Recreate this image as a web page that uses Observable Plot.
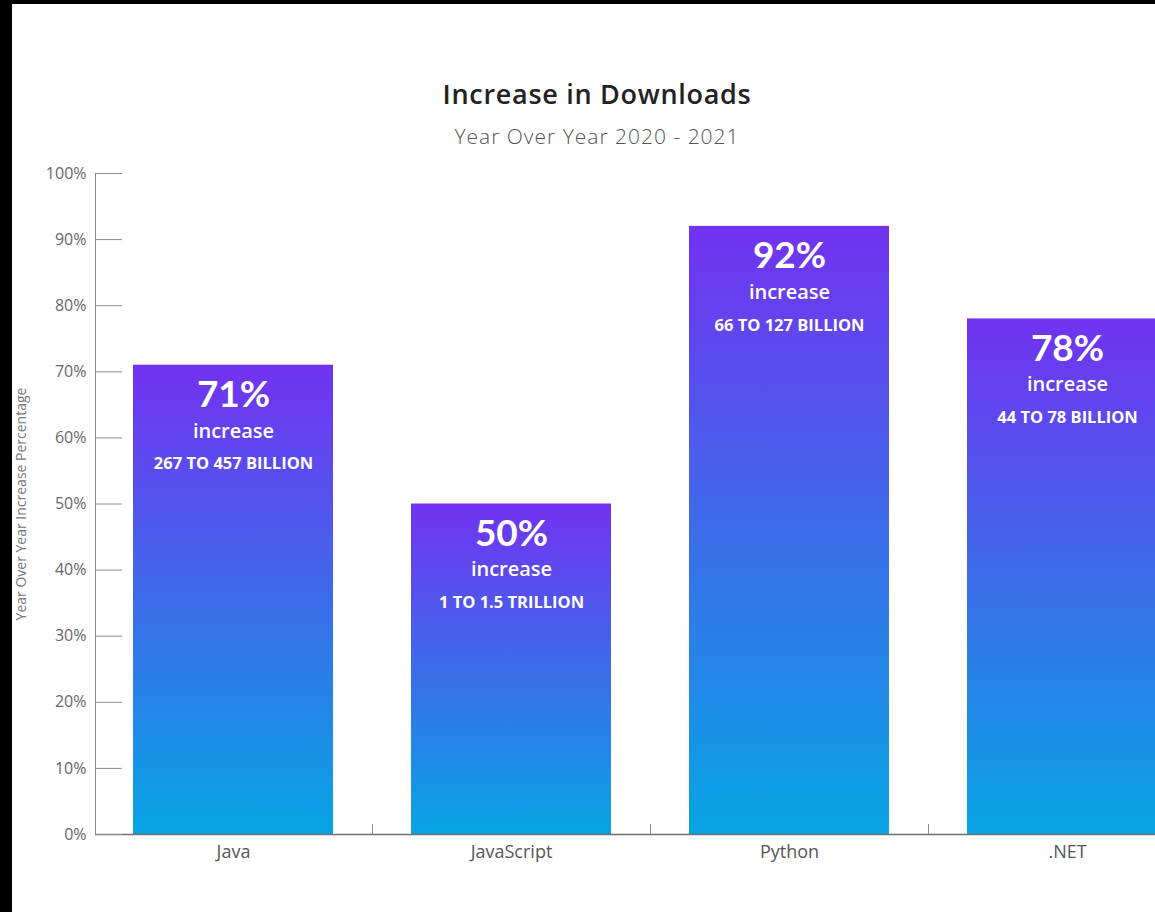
<!DOCTYPE html>
<html>
<head>
<meta charset="utf-8">
<script src="https://cdn.jsdelivr.net/npm/d3@7"></script>
<script src="https://cdn.jsdelivr.net/npm/@observablehq/plot@0.6"></script>
<style>
  html, body { margin: 0; padding: 0; background: #000; overflow: hidden; }
  #wrap { position: absolute; left: 12px; top: 4px; width: 1143px; height: 908px; background: #fff; overflow: hidden; font-family: "Open Sans", Lato, sans-serif; }
  #header { position: relative; height: 150px; }
  #title { position: absolute; left: 0; width: 1170px; top: 71px; text-align: center; font-size: 27px; font-weight: 600; color: #222; line-height: 38px; letter-spacing: 0.7px; }
  #subtitle { position: absolute; left: 0; width: 1170px; top: 118px; text-align: center; font-size: 21px; font-weight: 300; color: #555; line-height: 28px; letter-spacing: 1px; }
  #chart svg { display: block; max-width: none; overflow: visible; }
</style>
</head>
<body>
<div id="wrap">
  <div id="header">
    <div id="title">Increase in Downloads</div>
    <div id="subtitle">Year Over Year 2020 - 2021</div>
  </div>
  <div id="chart"></div>
</div>
<script>
const categories = ["Java", "JavaScript", "Python", ".NET"];
const increases = [71, 50, 92, 78];
const details = ["267 TO 457 BILLION", "1 TO 1.5 TRILLION", "66 TO 127 BILLION", "44 TO 78 BILLION"];
const yTicks = [0, 10, 20, 30, 40, 50, 60, 70, 80, 90, 100];
const yTickLabels = ["0%", "10%", "20%", "30%", "40%", "50%", "60%", "70%", "80%", "90%", "100%"];
const yTitle = "Year Over Year Increase Percentage";

const data = categories.map((c, i) => ({category: c, value: increases[i], detail: details[i]}));

const gradientDefs = () => {
  const defs = d3.create("svg:defs");
  const g = defs.append("linearGradient").attr("id", "barGrad")
    .attr("x1", 0).attr("y1", 0).attr("x2", 0).attr("y2", 1);
  g.append("stop").attr("offset", "0%").attr("stop-color", "#7232f0");
  g.append("stop").attr("offset", "100%").attr("stop-color", "#07a5e4");
  return defs.node();
};

const chart = Plot.plot({
  width: 1143,
  height: 758,
  marginTop: 19,
  marginBottom: 78,
  marginLeft: 83,
  marginRight: 0,
  style: {fontFamily: "'Open Sans', Lato, sans-serif", background: "transparent", maxWidth: "none"},
  x: {type: "band", domain: categories, range: [83, 1193], paddingInner: 0.2806, paddingOuter: 0.1367, label: null},
  y: {domain: [0, 100], label: null},
  marks: [
    gradientDefs,
    Plot.barY(data, {x: "category", y: "value", fill: "url(#barGrad)"}),
    Plot.frame({anchor: "left", stroke: "#8a8a8a"}),
    Plot.ruleY([0], {stroke: "#6f6f6f", strokeWidth: 1.5}),
    Plot.axisY({ticks: yTicks, tickSize: -27, fill: "none", stroke: "#8a8a8a", label: null}),
    Plot.axisY({ticks: yTicks, tickSize: 0, tickPadding: 9, tickFormat: d => yTickLabels[yTicks.indexOf(d)],
      fontSize: 16, fill: "#666", label: null, style: {letterSpacing: "0.6px"}}),
    Plot.axisY({ticks: [], tickSize: 0, fill: "#777", fontSize: 14, label: yTitle, labelAnchor: "center", labelOffset: 79, labelArrow: "none"}),
    Plot.axisX({ticks: categories.slice(1), tickSize: -10, dx: -139, fill: "none", stroke: "#8a8a8a", label: null}),
    Plot.axisX({tickSize: 0, tickPadding: 11, fontSize: 18, fill: "#555", label: null, style: {letterSpacing: "0.5px"}}),
    Plot.text(data, {x: "category", y: "value", text: d => d.value + "%", dy: 30, fill: "white", fontSize: 37, fontWeight: "bold", fontFamily: "Lato, sans-serif", style: {letterSpacing: "0.5px"}}),
    Plot.text(data, {x: "category", y: "value", text: () => "increase", dy: 66, fill: "white", fontSize: 20, fontWeight: 600, fontFamily: "'Open Sans', sans-serif"}),
    Plot.text(data, {x: "category", y: "value", text: "detail", dy: 99, fill: "white", fontSize: 16.5, fontWeight: "bold", fontFamily: "'Open Sans', sans-serif"})
  ]
});
document.getElementById("chart").appendChild(chart);
</script>
</body>
</html>
